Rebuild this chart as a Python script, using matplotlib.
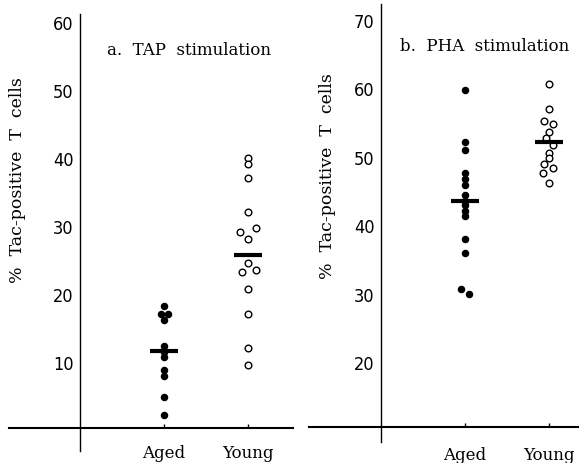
import matplotlib.pyplot as plt
import matplotlib.font_manager as fm

# 数据：各组数值
groups = ["Aged", "Young"]

tap_aged = [18.3, 17.0, 17.0, 16.2, 12.3, 11.5, 10.7, 8.8, 8.0, 4.9, 2.2]
tap_aged_jit = [0, -0.04, 0.05, 0, 0, 0, 0, 0, 0, 0, 0]
tap_young = [40.0, 39.1, 37.1, 32.1, 29.7, 29.1, 28.1, 24.6, 23.5, 23.2, 20.7, 17.1, 12.1, 9.6]
tap_young_jit = [0, 0, 0, 0, 0.09, -0.09, 0, 0, 0.1, -0.07, 0, 0, 0, 0]
tap_means = [11.6, 25.7]

pha_aged = [59.7, 52.1, 51.0, 47.6, 46.8, 45.9, 44.4, 43.6, 43.0, 42.1, 41.4, 38.0, 35.9, 30.6, 29.9]
pha_aged_jit = [0, 0, 0, 0, 0, 0, 0, 0, 0, 0, 0, 0, 0, -0.05, 0.05]
pha_young = [60.7, 57.0, 55.2, 54.8, 53.6, 52.7, 51.7, 50.5, 49.8, 48.9, 48.3, 47.6, 46.2]
pha_young_jit = [0, 0, -0.06, 0.05, 0, -0.04, 0.05, 0, 0, -0.06, 0.05, -0.07, 0]
pha_means = [43.6, 52.1]

tap_ticks = [10, 20, 30, 40, 50, 60]
pha_ticks = [20, 30, 40, 50, 60, 70]


# 字体：数字用窄体常规字重（有的话）
def is_regular(f):
    return f.style == 'normal' and str(f.weight).lower() in ('400', 'normal', 'regular', 'book')


narrow = [f for f in fm.fontManager.ttflist if is_regular(f) and
          ('Narrow' in f.name or f.stretch in ('condensed', 'semi-condensed', 'extra-condensed'))]
if narrow:
    num_prop = fm.FontProperties(fname=narrow[0].fname, size=13)
else:
    num_prop = fm.FontProperties(family='Liberation Sans', size=12)
serif = 'DejaVu Serif'

fig = plt.figure(figsize=(5.79, 4.64), dpi=100)
W, H = 579.0, 464.0


def panel(px0, px1, xlim, ylim, xaxis_y, ybounds, xbounds,
          aged, aged_jit, young, young_jit, means, ticks,
          title, title_xy, ylab_xy, xlab_pad):
    ax = fig.add_axes([px0 / W, 0, (px1 - px0) / W, 1])
    ax.set_xlim(*xlim)
    ax.set_ylim(*ylim)
    ax.patch.set_alpha(0)

    # 坐标轴线
    for s in ['top', 'right']:
        ax.spines[s].set_visible(False)
    ax.spines['left'].set_position(('data', 0))
    ax.spines['left'].set_bounds(*ybounds)
    ax.spines['left'].set_linewidth(1.0)
    ax.spines['bottom'].set_position(('data', xaxis_y))
    ax.spines['bottom'].set_bounds(*xbounds)
    ax.spines['bottom'].set_linewidth(1.5)

    # 散点
    ax.plot([1 + j for j in aged_jit], aged, 'o', color='black',
            markersize=4.4, zorder=3, clip_on=False)
    ax.plot([2 + j for j in young_jit], young, 'o', markerfacecolor='white',
            markeredgecolor='black', markeredgewidth=1.0, markersize=4.8,
            zorder=3, clip_on=False)
    # 平均值横线
    for i, m in enumerate(means):
        ax.plot([i + 1 - 0.17, i + 1 + 0.17], [m, m], color='black',
                lw=3.0, solid_capstyle='butt', zorder=4)

    ax.set_yticks(ticks)
    ax.set_yticklabels([str(t) for t in ticks], fontproperties=num_prop)
    ax.tick_params(axis='y', length=0, pad=4.5)
    ax.set_xticks([1, 2])
    ax.set_xticklabels(groups, family=serif, fontsize=12)
    ax.tick_params(axis='x', direction='in', length=3, width=1, pad=xlab_pad)

    ax.text(title_xy[0], title_xy[1], title, family=serif, fontsize=12,
            ha='center', va='center')
    ax.text(ylab_xy[0], ylab_xy[1], '%  Tac-positive  T  cells', family=serif,
            fontsize=12.5, rotation=90, ha='center', va='center')
    return ax


panel(0, 300, (-0.952, 2.619), (-4.853, 63.382), 0.3, (-3.1, 61.2), (-0.85, 2.54),
      tap_aged, tap_aged_jit, tap_young, tap_young_jit, tap_means, tap_ticks,
      'a.  TAP  stimulation', (1.30, 56.0), (-0.738, 36.9), 11.5)

panel(300, 579, (-0.964, 2.357), (5.234, 73.07), 10.5, (8.3, 72.3), (-0.86, 2.4),
      pha_aged, pha_aged_jit, pha_young, pha_young_jit, pha_means, pha_ticks,
      'b.  PHA  stimulation', (1.23, 66.2), (-0.631, 47.3), 14)

fig.savefig('out.png', dpi=100)
